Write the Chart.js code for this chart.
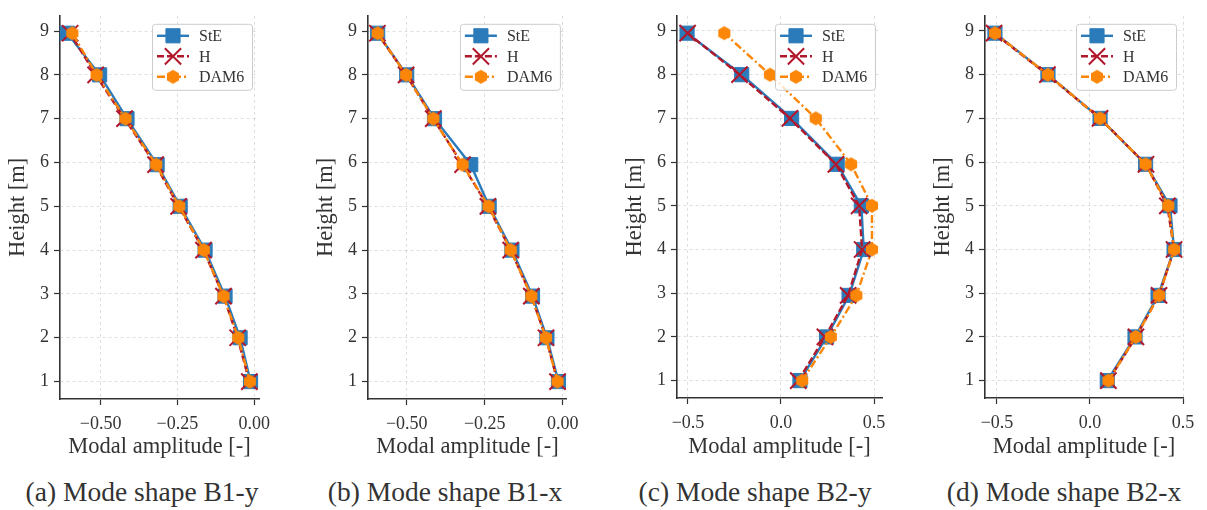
<!DOCTYPE html>
<html lang="en">
<head>
<meta charset="UTF-8">
<title>Mode shapes</title>
<script src="https://cdn.jsdelivr.net/npm/chart.js"></script>
<style>
  body { margin: 0; background: #fff; width: 1207px; height: 510px; position: relative; overflow: hidden; font-family: "Liberation Serif", serif; }
  canvas { position: absolute; top: 0; }
  .caption { position: absolute; top: 476px; font-size: 27.5px; color: #333; transform: translateX(-50%); white-space: nowrap; }
</style>
</head>
<body>
<canvas id="b1y" width="279" height="470" style="left:0px"></canvas>
<canvas id="b1x" width="279" height="470" style="left:308px"></canvas>
<canvas id="b2y" width="285" height="470" style="left:617px"></canvas>
<canvas id="b2x" width="278" height="470" style="left:925px"></canvas>
<div class="caption" style="left:142px">(a) Mode shape B1-y</div>
<div class="caption" style="left:445px">(b) Mode shape B1-x</div>
<div class="caption" style="left:755px">(c) Mode shape B2-y</div>
<div class="caption" style="left:1064px">(d) Mode shape B2-x</div>
<script>
// storey heights [m]
const heights = [1, 2, 2.95, 4, 5, 5.95, 7, 8, 8.95];
const seriesNames = ['StE', 'H', 'DAM6'];

// modal amplitudes, bottom to top
const b1yStE  = [-0.012, -0.046, -0.095, -0.160, -0.241, -0.316, -0.414, -0.503, -0.608];
const b1yH    = [-0.016, -0.054, -0.100, -0.165, -0.246, -0.321, -0.422, -0.516, -0.599];
const b1yDAM6 = [-0.014, -0.052, -0.100, -0.164, -0.244, -0.319, -0.419, -0.513, -0.592];

const b1xStE  = [-0.014, -0.051, -0.097, -0.163, -0.236, -0.295, -0.411, -0.500, -0.593];
const b1xH    = [-0.017, -0.054, -0.101, -0.167, -0.240, -0.321, -0.415, -0.502, -0.594];
const b1xDAM6 = [-0.017, -0.054, -0.101, -0.167, -0.238, -0.321, -0.415, -0.502, -0.593];

const b2yStE  = [0.102, 0.245, 0.366, 0.445, 0.432, 0.302, 0.057, -0.211, -0.505];
const b2yH    = [0.093, 0.236, 0.361, 0.436, 0.420, 0.295, 0.048, -0.223, -0.502];
const b2yDAM6 = [0.114, 0.268, 0.405, 0.489, 0.489, 0.377, 0.187, -0.059, -0.305];

const b2xStE  = [0.093, 0.242, 0.366, 0.452, 0.430, 0.299, 0.054, -0.226, -0.511];
const b2xH    = [0.099, 0.247, 0.371, 0.452, 0.416, 0.301, 0.054, -0.229, -0.516];
const b2xDAM6 = [0.099, 0.246, 0.371, 0.452, 0.421, 0.299, 0.054, -0.226, -0.511];

// ticks
const yTicks = [1, 2, 3, 4, 5, 6, 7, 8, 9];
const xTicksB1 = [-0.5, -0.25, 0];
const xLabelsB1 = ['\u22120.50', '\u22120.25', '0.00'];
const xTicksB2 = [-0.5, 0, 0.5];
const xLabelsB2 = ['\u22120.5', '0.0', '0.5'];

const FONT = '"Liberation Serif", "Times New Roman", serif';
const TXT = '#333333';
const colors = ['#2b7bba', '#b2182b', '#fb8608'];

function hexagon(color, r) {
    const c = document.createElement('canvas');
    const s = Math.ceil(r * 2) + 2;
    c.width = s; c.height = s;
    const g = c.getContext('2d');
    g.fillStyle = color;
    g.beginPath();
    for (let k = 0; k < 6; k++) {
        const a = Math.PI / 2 + k * Math.PI / 3;
        const px = s / 2 + r * Math.cos(a), py = s / 2 - r * Math.sin(a);
        if (k === 0) g.moveTo(px, py); else g.lineTo(px, py);
    }
    g.closePath();
    g.fill();
    return c;
}
const hexImg = hexagon(colors[2], 7);

function points(xs) {
    return xs.map((x, i) => ({x: x, y: heights[i]}));
}

function makeDatasets(ste, h, dam) {
    return [
        {label: seriesNames[0], data: points(ste), borderColor: colors[0], backgroundColor: colors[0],
         borderWidth: 2.4, pointStyle: 'rect', pointRadius: 10, pointBorderWidth: 1, order: 3},
        {label: seriesNames[1], data: points(h), borderColor: colors[1], backgroundColor: colors[1],
         borderWidth: 2.4, borderDash: [7, 3], pointStyle: 'crossRot', pointRadius: 11.5, pointBorderWidth: 2, order: 2},
        {label: seriesNames[2], data: points(dam), borderColor: colors[2], backgroundColor: colors[2],
         borderWidth: 2.4, borderDash: [8, 3, 2, 3], pointStyle: hexImg, pointRadius: 7, pointBorderWidth: 0, order: 1}
    ];
}

// legend box drawn inside the top right corner of the plot area
const boxLegend = {
    id: 'boxLegend',
    afterDatasetsDraw(chart) {
        const ctx = chart.ctx, a = chart.chartArea;
        const w = 100, h = 66;
        const bx = a.right - 7 - w, by = a.top + 8;
        ctx.save();
        ctx.fillStyle = 'rgba(255,255,255,0.8)';
        ctx.strokeStyle = '#cccccc';
        ctx.lineWidth = 1;
        ctx.beginPath();
        ctx.roundRect(bx + 0.5, by + 0.5, w, h, 3);
        ctx.fill();
        ctx.stroke();
        chart.data.datasets.forEach((ds, i) => {
            const y = by + 12 + i * 20.5;
            ctx.strokeStyle = ds.borderColor;
            ctx.lineWidth = ds.borderWidth;
            ctx.setLineDash(ds.borderDash || []);
            ctx.beginPath();
            ctx.moveTo(bx + 5, y);
            ctx.lineTo(bx + 37, y);
            ctx.stroke();
            ctx.setLineDash([]);
            ctx.fillStyle = ds.backgroundColor;
            ctx.lineWidth = ds.pointBorderWidth;
            Chart.helpers.drawPoint(ctx, {pointStyle: ds.pointStyle, radius: ds.pointRadius,
                borderWidth: ds.pointBorderWidth, rotation: 0}, bx + 21, y);
            ctx.fillStyle = TXT;
            ctx.font = '16px ' + FONT;
            ctx.textBaseline = 'middle';
            ctx.fillText(ds.label, bx + 47, y + 1);
        });
        ctx.restore();
    }
};

function axisStyle() {
    return {
        grid: {color: 'rgba(0,0,0,0.13)', lineWidth: 1, tickColor: '#333', tickLength: 6, tickWidth: 1.2, tickBorderDash: []},
        border: {color: '#333', width: 1.6, dash: [3, 3]}
    };
}

function makeChart(id, ds, area, xMin, xMax, xt, xl) {
    const el = document.getElementById(id);
    const canvasLeft = parseFloat(el.style.left);
    const H = 470;
    return new Chart(el, {
        type: 'scatter',
        data: {datasets: ds},
        plugins: [boxLegend],
        options: {
            responsive: false,
            animation: false,
            layout: {padding: {left: 0, top: area.t, right: el.width - (area.r - canvasLeft), bottom: 0}},
            elements: {line: {tension: 0}},
            datasets: {scatter: {showLine: true, clip: false}},
            plugins: {legend: {display: false}, tooltip: {enabled: false}},
            scales: {
                x: Object.assign({
                    type: 'linear', min: xMin, max: xMax,
                    afterBuildTicks: s => { s.ticks = xt.map(v => ({value: v})); },
                    afterFit: s => { s.height = H - area.b; },
                    ticks: {callback: (v, i) => xl[i], font: {family: FONT, size: 18}, color: TXT, padding: 8, maxRotation: 0, autoSkip: false},
                    title: {display: true, text: 'Modal amplitude [-]', font: {family: FONT, size: 22.5}, color: TXT, padding: {top: 0, bottom: 9.5}}
                }, axisStyle()),
                y: Object.assign({
                    type: 'linear', min: 0.6025, max: 9.3475,
                    afterBuildTicks: s => { s.ticks = yTicks.map(v => ({value: v})); },
                    afterFit: s => { s.width = area.l - canvasLeft; },
                    ticks: {callback: (v, i) => String(yTicks[i]), font: {family: FONT, size: 18}, color: TXT, padding: 5, autoSkip: false},
                    title: {display: true, text: 'Height [m]', font: {family: FONT, size: 22.5}, color: TXT, padding: {top: 4.5, bottom: 0}}
                }, axisStyle())
            }
        }
    });
}

makeChart('b1y', makeDatasets(b1yStE, b1yH, b1yDAM6), {l: 60, r: 259, t: 15, b: 399}, -0.632, 0.0155, xTicksB1, xLabelsB1);
makeChart('b1x', makeDatasets(b1xStE, b1xH, b1xDAM6), {l: 368, r: 567, t: 15, b: 399}, -0.624, 0.013, xTicksB1, xLabelsB1);
makeChart('b2y', makeDatasets(b2yStE, b2yH, b2yDAM6), {l: 677, r: 882, t: 8, b: 398}, -0.559, 0.543, xTicksB2, xLabelsB2);
makeChart('b2x', makeDatasets(b2xStE, b2xH, b2xDAM6), {l: 985, r: 1183, t: 7, b: 398}, -0.5645, 0.5, xTicksB2, xLabelsB2);
</script>
</body>
</html>
